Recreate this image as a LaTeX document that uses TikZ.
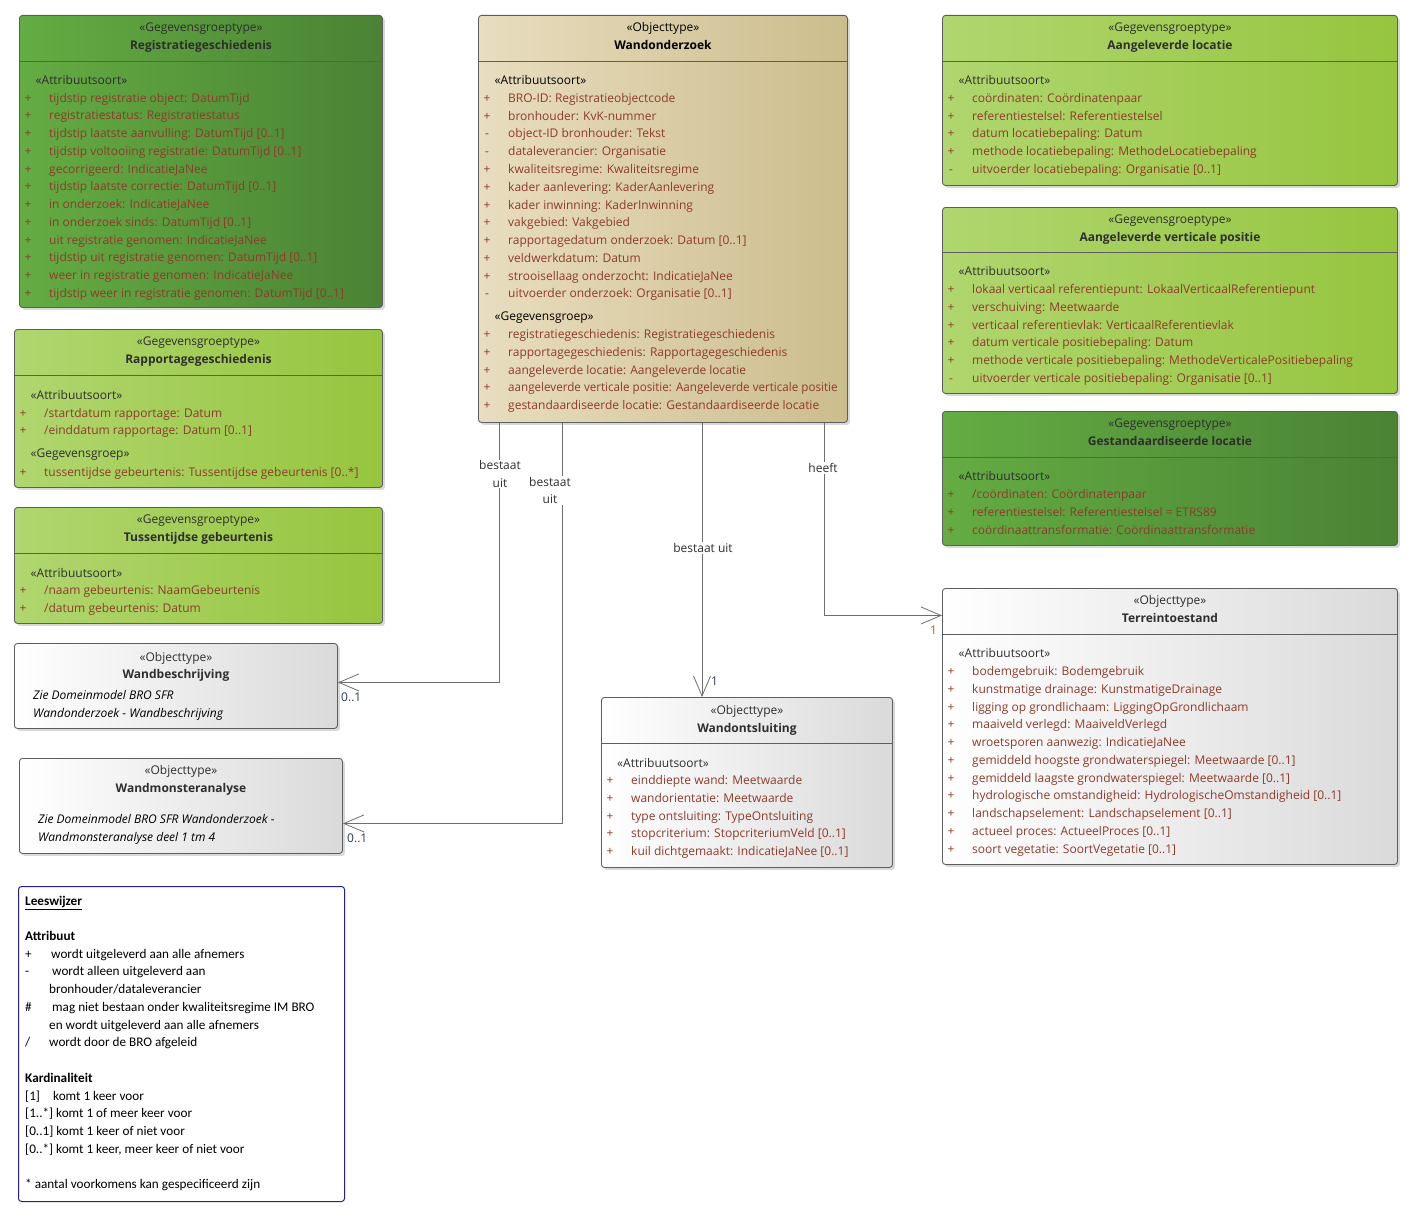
\documentclass[tikz,border=0pt]{standalone}
\usepackage{fontspec}
\setmainfont{Open Sans}
\newfontfamily\legendfont{Carlito}
\usetikzlibrary{arrows.meta,shadows}
\definecolor{boxline}{HTML}{5E5E5E}
\definecolor{connline}{HTML}{6E6E6E}
\definecolor{titletext}{HTML}{2E2E2E}
\definecolor{attrtext}{HTML}{8E3B2A}
\definecolor{dkgreenL}{HTML}{64AC43}
\definecolor{dkgreenR}{HTML}{4A8334}
\definecolor{ltgreenL}{HTML}{B0D66F}
\definecolor{ltgreenR}{HTML}{96C53F}
\definecolor{tanL}{HTML}{E8DDBF}
\definecolor{tanR}{HTML}{CCBD8D}
\definecolor{greyR}{HTML}{DADADA}
\definecolor{leesblue}{HTML}{22229E}
\definecolor{multblue}{HTML}{2A3A5A}
\definecolor{multbrown}{HTML}{B0601E}

% attribute rows: name prefix, box left, first row y, list of sign/text
\newcommand{\attrrows}[4]{%
  \foreach \v/\t [count=\i from 0] in {#4} {
    \node[vis] (#1v\i) at (#2+9,#3+17.75*\i) {\v};
    \node[attr] (#1a\i) at (#2+30,#3+17.75*\i) {\t};
  }}

\begin{document}
\begin{tikzpicture}[x=1pt,y=-1pt,
    umlbox/.style={draw=boxline, line width=0.9pt, rounded corners=3pt, anchor=north west, inner sep=0pt,
      drop shadow={shadow xshift=2.5pt, shadow yshift=-2.5pt, fill=black!30, opacity=0.5}},
    darkgrp/.style={umlbox, left color=dkgreenL, right color=dkgreenR},
    lightgrp/.style={umlbox, left color=ltgreenL, right color=ltgreenR},
    objtan/.style={umlbox, left color=tanL, right color=tanR},
    objwhite/.style={umlbox, left color=white, right color=greyR},
    divider/.style={draw=boxline, line width=0.9pt},
    stereo/.style={anchor=base, yshift=-4.5pt, font=\fontsize{12}{14}\selectfont, text=titletext, inner sep=0pt},
    cname/.style={stereo, font=\fontsize{12}{14}\selectfont\bfseries},
    section/.style={stereo, anchor=base west},
    vis/.style={anchor=base, yshift=-4.5pt, font=\fontsize{12}{14}\selectfont, text=attrtext, inner sep=0pt},
    attr/.style={anchor=base west, yshift=-4.5pt, font=\fontsize{12}{14}\selectfont, text=attrtext, inner sep=0pt},
    note/.style={anchor=base west, yshift=-4.5pt, font=\fontsize{12}{14}\selectfont\itshape, text=black, inner sep=0pt},
    assoc/.style={draw=connline, line width=0.8pt, -{Straight Barb[length=20pt,width=17pt]}},
    linklabel/.style={fill=white, align=center, font=\fontsize{12}{17.5}\selectfont, text=titletext, inner sep=1pt},
    mult/.style={anchor=base west, yshift=-4.5pt, font=\fontsize{12}{14}\selectfont, inner sep=0pt},
    legtext/.style={anchor=base west, yshift=-4.2pt, font=\legendfont\fontsize{13.2}{15}\selectfont, text=black, inner sep=0pt}]
  \useasboundingbox (0,0) rectangle (1415,1220);
  \fill[white] (0,0) rectangle (1415,1220);

  % Registratiegeschiedenis
  \node[darkgrp, minimum width=363pt, minimum height=292pt] (reg) at (19,15) {};
  \draw[divider] ([yshift=-46.5pt]reg.north west) -- ([yshift=-46.5pt]reg.north east);
  \node[stereo] (regSt) at ([yshift=-12pt]reg.north) {«Gegevensgroeptype»};
  \node[cname] (regNm) at ([yshift=-30pt]reg.north) {Registratiegeschiedenis};
  \node[section] (regAs) at (35.5,80) {«Attribuutsoort»};
  \attrrows{reg}{19}{97.7}{+/tijdstip registratie object: DatumTijd, +/registratiestatus: Registratiestatus,
    +/tijdstip laatste aanvulling: DatumTijd [0..1], +/tijdstip voltooiing registratie: DatumTijd [0..1],
    +/gecorrigeerd: IndicatieJaNee, +/tijdstip laatste correctie: DatumTijd [0..1],
    +/in onderzoek: IndicatieJaNee, +/in onderzoek sinds: DatumTijd [0..1],
    +/uit registratie genomen: IndicatieJaNee, +/tijdstip uit registratie genomen: DatumTijd [0..1],
    +/weer in registratie genomen: IndicatieJaNee, +/tijdstip weer in registratie genomen: DatumTijd [0..1]}

  % Rapportagegeschiedenis
  \node[lightgrp, minimum width=368pt, minimum height=158pt] (rapp) at (14,329) {};
  \draw[divider] ([yshift=-46.5pt]rapp.north west) -- ([yshift=-46.5pt]rapp.north east);
  \node[stereo] (rappSt) at ([yshift=-12pt]rapp.north) {«Gegevensgroeptype»};
  \node[cname] (rappNm) at ([yshift=-30pt]rapp.north) {Rapportagegeschiedenis};
  \node[section] (rappAs) at (30.5,395) {«Attribuutsoort»};
  \attrrows{rappA}{14}{412.5}{+/{/startdatum rapportage: Datum}, +/{/einddatum rapportage: Datum [0..1]}}
  \node[section] (rappGg) at (30.5,453) {«Gegevensgroep»};
  \attrrows{rappG}{14}{471.5}{+/{tussentijdse gebeurtenis: Tussentijdse gebeurtenis [0..*]}}

  % Tussentijdse gebeurtenis
  \node[lightgrp, minimum width=368pt, minimum height=116pt] (tuss) at (14,507) {};
  \draw[divider] ([yshift=-46.5pt]tuss.north west) -- ([yshift=-46.5pt]tuss.north east);
  \node[stereo] (tussSt) at ([yshift=-12pt]tuss.north) {«Gegevensgroeptype»};
  \node[cname] (tussNm) at ([yshift=-30pt]tuss.north) {Tussentijdse gebeurtenis};
  \node[section] (tussAs) at (30.5,573) {«Attribuutsoort»};
  \attrrows{tuss}{14}{590}{+/{/naam gebeurtenis: NaamGebeurtenis}, +/{/datum gebeurtenis: Datum}}

  % Wandbeschrijving
  \node[objwhite, minimum width=323pt, minimum height=85pt] (wbes) at (14,643) {};
  \node[stereo] (wbesSt) at ([yshift=-14pt]wbes.north) {«Objecttype»};
  \node[cname] (wbesNm) at ([yshift=-31pt]wbes.north) {Wandbeschrijving};
  \node[note] (wbesN1) at (33,695) {Zie Domeinmodel BRO SFR};
  \node[note] (wbesN2) at (33,713) {Wandonderzoek - Wandbeschrijving};

  % Wandmonsteranalyse
  \node[objwhite, minimum width=323pt, minimum height=95pt] (wmon) at (19,758) {};
  \node[stereo] (wmonSt) at ([yshift=-12pt]wmon.north) {«Objecttype»};
  \node[cname] (wmonNm) at ([yshift=-30pt]wmon.north) {Wandmonsteranalyse};
  \node[note] (wmonN1) at (38,819) {Zie Domeinmodel BRO SFR Wandonderzoek -};
  \node[note] (wmonN2) at (38,837) {Wandmonsteranalyse deel 1 tm 4};

  % Wandonderzoek
  \node[objtan, minimum width=369pt, minimum height=407pt] (wond) at (478,15) {};
  \draw[divider] ([yshift=-46.5pt]wond.north west) -- ([yshift=-46.5pt]wond.north east);
  \node[stereo, text=black] (wondSt) at ([yshift=-12pt]wond.north) {«Objecttype»};
  \node[cname, text=black] (wondNm) at ([yshift=-30pt]wond.north) {Wandonderzoek};
  \node[section, text=black] (wondAs) at (494.5,80) {«Attribuutsoort»};
  \attrrows{wondA}{478}{98}{+/BRO-ID: Registratieobjectcode, +/bronhouder: KvK-nummer,
    -/object-ID bronhouder: Tekst, -/dataleverancier: Organisatie,
    +/kwaliteitsregime: Kwaliteitsregime, +/kader aanlevering: KaderAanlevering,
    +/kader inwinning: KaderInwinning, +/vakgebied: Vakgebied,
    +/rapportagedatum onderzoek: Datum [0..1], +/veldwerkdatum: Datum,
    +/strooisellaag onderzocht: IndicatieJaNee, -/uitvoerder onderzoek: Organisatie [0..1]}
  \node[section, text=black] (wondGg) at (494.5,316) {«Gegevensgroep»};
  \attrrows{wondG}{478}{334}{+/registratiegeschiedenis: Registratiegeschiedenis,
    +/rapportagegeschiedenis: Rapportagegeschiedenis,
    +/aangeleverde locatie: Aangeleverde locatie,
    +/{\scalebox{0.97}[1]{aangeleverde verticale positie: Aangeleverde verticale positie}},
    +/gestandaardiseerde locatie: Gestandaardiseerde locatie}

  % Aangeleverde locatie
  \node[lightgrp, minimum width=455pt, minimum height=170pt] (aloc) at (942,15) {};
  \draw[divider] ([yshift=-46.5pt]aloc.north west) -- ([yshift=-46.5pt]aloc.north east);
  \node[stereo] (alocSt) at ([yshift=-12pt]aloc.north) {«Gegevensgroeptype»};
  \node[cname] (alocNm) at ([yshift=-30pt]aloc.north) {Aangeleverde locatie};
  \node[section] (alocAs) at (958.5,80) {«Attribuutsoort»};
  \attrrows{aloc}{942}{98}{+/coördinaten: Coördinatenpaar, +/referentiestelsel: Referentiestelsel,
    +/datum locatiebepaling: Datum, +/methode locatiebepaling: MethodeLocatiebepaling,
    -/uitvoerder locatiebepaling: Organisatie [0..1]}

  % Aangeleverde verticale positie
  \node[lightgrp, minimum width=455pt, minimum height=186pt] (avp) at (942,207) {};
  \draw[divider] ([yshift=-45.5pt]avp.north west) -- ([yshift=-45.5pt]avp.north east);
  \node[stereo] (avpSt) at ([yshift=-11.5pt]avp.north) {«Gegevensgroeptype»};
  \node[cname] (avpNm) at ([yshift=-29.5pt]avp.north) {Aangeleverde verticale positie};
  \node[section] (avpAs) at (958.5,271) {«Attribuutsoort»};
  \attrrows{avp}{942}{289}{+/lokaal verticaal referentiepunt: LokaalVerticaalReferentiepunt,
    +/verschuiving: Meetwaarde, +/verticaal referentievlak: VerticaalReferentievlak,
    +/datum verticale positiebepaling: Datum,
    +/methode verticale positiebepaling: MethodeVerticalePositiebepaling,
    -/uitvoerder verticale positiebepaling: Organisatie [0..1]}

  % Gestandaardiseerde locatie
  \node[darkgrp, minimum width=455pt, minimum height=134pt] (gloc) at (942,411) {};
  \draw[divider] ([yshift=-46pt]gloc.north west) -- ([yshift=-46pt]gloc.north east);
  \node[stereo] (glocSt) at ([yshift=-12pt]gloc.north) {«Gegevensgroeptype»};
  \node[cname] (glocNm) at ([yshift=-30pt]gloc.north) {Gestandaardiseerde locatie};
  \node[section] (glocAs) at (958.5,476) {«Attribuutsoort»};
  \attrrows{gloc}{942}{494}{+/{/coördinaten: Coördinatenpaar},
    +/referentiestelsel: Referentiestelsel = ETRS89,
    +/coördinaattransformatie: Coördinaattransformatie}

  % Terreintoestand
  \node[objwhite, minimum width=455pt, minimum height=276pt] (terr) at (942,588) {};
  \draw[divider] ([yshift=-46.5pt]terr.north west) -- ([yshift=-46.5pt]terr.north east);
  \node[stereo] (terrSt) at ([yshift=-12pt]terr.north) {«Objecttype»};
  \node[cname] (terrNm) at ([yshift=-30pt]terr.north) {Terreintoestand};
  \node[section] (terrAs) at (958.5,653) {«Attribuutsoort»};
  \attrrows{terr}{942}{671}{+/bodemgebruik: Bodemgebruik, +/kunstmatige drainage: KunstmatigeDrainage,
    +/ligging op grondlichaam: LiggingOpGrondlichaam, +/maaiveld verlegd: MaaiveldVerlegd,
    +/wroetsporen aanwezig: IndicatieJaNee,
    +/gemiddeld hoogste grondwaterspiegel: Meetwaarde [0..1],
    +/gemiddeld laagste grondwaterspiegel: Meetwaarde [0..1],
    +/hydrologische omstandigheid: HydrologischeOmstandigheid [0..1],
    +/landschapselement: Landschapselement [0..1], +/actueel proces: ActueelProces [0..1],
    +/soort vegetatie: SoortVegetatie [0..1]}

  % Wandontsluiting
  \node[objwhite, minimum width=291pt, minimum height=170pt] (wont) at (601,697) {};
  \draw[divider] ([yshift=-46pt]wont.north west) -- ([yshift=-46pt]wont.north east);
  \node[stereo] (wontSt) at ([yshift=-13pt]wont.north) {«Objecttype»};
  \node[cname] (wontNm) at ([yshift=-31pt]wont.north) {Wandontsluiting};
  \node[section] (wontAs) at (617,763) {«Attribuutsoort»};
  \attrrows{wont}{601}{780}{+/einddiepte wand: Meetwaarde, +/wandorientatie: Meetwaarde,
    +/type ontsluiting: TypeOntsluiting, +/stopcriterium: StopcriteriumVeld [0..1],
    +/kuil dichtgemaakt: IndicatieJaNee [0..1]}

  % associations
  \draw[assoc] ([xshift=21pt]wond.south west) |- ([yshift=3.5pt]wbes.east);
  \draw[assoc] ([xshift=84pt]wond.south west) |- ([yshift=-17.5pt]wmon.east);
  \draw[assoc] ([xshift=224pt]wond.south west) -- ([xshift=224pt]wond.south west |- wont.north);
  \draw[assoc] ([xshift=346pt]wond.south west) |- ([yshift=111pt]terr.west);
  \node[linklabel] (lblWbes) at (500,474) {bestaat\\uit};
  \node[linklabel] (lblWmon) at (550,490.5) {bestaat\\uit};
  \node[linklabel] (lblWont) at (703,548) {bestaat uit};
  \node[linklabel] (lblTerr) at (823,468) {heeft};
  \node[mult, text=multblue] (mWbes) at (341,697) {0..1};
  \node[mult, text=multblue] (mWmon) at (347,838) {0..1};
  \node[mult, text=multblue] (mWont) at (711,681) {1};
  \node[mult, text=multbrown] (mTerr) at (930,630) {1};

  % Leeswijzer
  \node[draw=leesblue, line width=1pt, rounded corners=3pt, fill=white, anchor=north west,
    minimum width=326pt, minimum height=315pt] (lees) at (18,886) {};
  \node[legtext, font=\legendfont\fontsize{13.2}{15}\selectfont\bfseries] (leesTtl) at (25,901) {\underline{Leeswijzer}};
  \node[legtext, font=\legendfont\fontsize{13.2}{15}\selectfont\bfseries] (leesAttr) at (25,936) {Attribuut};
  \node[legtext, font=\legendfont\fontsize{13.2}{15}\selectfont\bfseries] (leesKard) at (25,1078) {Kardinaliteit};
  \foreach \lx/\ly/\lt [count=\i] in {25/954/+, 51/954/wordt uitgeleverd aan alle afnemers,
      25/971/-, 52/971/wordt alleen uitgeleverd aan, 49/989/{bronhouder/dataleverancier},
      25/1007/\#, 52/1007/mag niet bestaan onder kwaliteitsregime IM BRO,
      49/1025/en wordt uitgeleverd aan alle afnemers, 25/1042/{/}, 49/1042/wordt door de BRO afgeleid,
      25/1096/[1], 53/1096/komt 1 keer voor, 25/1113/{[1..*] komt 1 of meer keer voor},
      25/1131/{[0..1] komt 1 keer of niet voor}, 25/1149/{[0..*] komt 1 keer, meer keer of niet voor},
      25/1184/{* aantal voorkomens kan gespecificeerd zijn}} {
    \node[legtext] (lees\i) at (\lx,\ly) {\lt};
  }
\end{tikzpicture}
\end{document}
